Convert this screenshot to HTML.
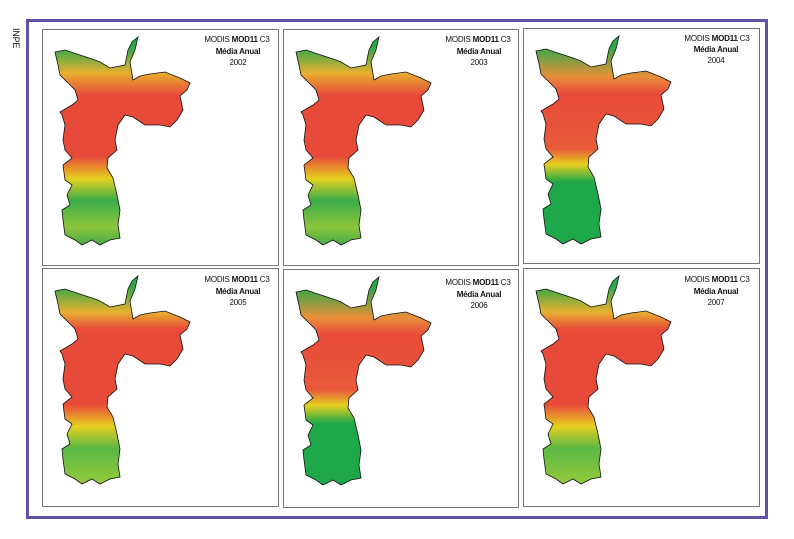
<!DOCTYPE html>
<html><head><meta charset="utf-8"><style>
body{margin:0;background:#fff;width:794px;height:539px;overflow:hidden}
svg{display:block}
text{font-family:"Liberation Sans",sans-serif;font-size:8px;letter-spacing:-0.2px;fill:#111}
</style></head><body>
<svg width="794" height="539" viewBox="0 0 794 539">
<defs>
<path id="m" d="M13,23 L23,21 L38,26 L53,31 L58,33 L68,39 L83,36 L86,21 L90,13 L96,8 L93,21 L88,33 L91,51 L98,47 L108,45 L123,43 L138,49 L148,54 L145,61 L138,67 L141,81 L135,91 L128,98 L118,96 L103,96 L91,88 L83,86 L76,96 L73,111 L75,121 L66,129 L65,139 L71,149 L75,166 L78,181 L76,196 L78,209 L68,211 L58,216 L50,211 L40,216 L33,211 L23,206 L21,191 L20,181 L28,176 L25,166 L30,156 L23,151 L21,136 L30,129 L23,121 L21,111 L23,96 L20,86 L18,83 L30,76 L36,71 L33,61 L28,56 L18,46 L16,36 Z"/>
<linearGradient id="g1" x1="0" y1="0" x2="0" y2="220" gradientUnits="userSpaceOnUse">
<stop offset="0.08" stop-color="#2aa84a"/><stop offset="0.2" stop-color="#e8b030"/><stop offset="0.3" stop-color="#e84a3a"/><stop offset="0.58" stop-color="#e84a3a"/><stop offset="0.68" stop-color="#e6d020"/><stop offset="0.78" stop-color="#3aad48"/><stop offset="0.9" stop-color="#8cc43c"/><stop offset="1" stop-color="#3aa848"/></linearGradient>
<linearGradient id="g2" x1="0" y1="0" x2="0" y2="220" gradientUnits="userSpaceOnUse">
<stop offset="0.08" stop-color="#2aa84a"/><stop offset="0.22" stop-color="#e8903a"/><stop offset="0.3" stop-color="#e84a3a"/><stop offset="0.55" stop-color="#e85a3a"/><stop offset="0.62" stop-color="#e6d020"/><stop offset="0.7" stop-color="#1fa84a"/><stop offset="1" stop-color="#1fa84a"/></linearGradient>
<linearGradient id="g3" x1="0" y1="0" x2="0" y2="220" gradientUnits="userSpaceOnUse">
<stop offset="0.08" stop-color="#2aa84a"/><stop offset="0.2" stop-color="#e8b030"/><stop offset="0.28" stop-color="#e84a3a"/><stop offset="0.62" stop-color="#e84a3a"/><stop offset="0.72" stop-color="#e6d020"/><stop offset="0.82" stop-color="#5ab844"/><stop offset="1" stop-color="#9ccc3c"/></linearGradient>
</defs>
<text x="0" y="0" transform="translate(13,28) rotate(90)" style="font-size:9px">INPE</text>
<rect x="27.5" y="20.5" width="739" height="497" fill="none" stroke="#5b53a8" stroke-width="3"/>
<g stroke="#777" stroke-width="1" fill="#fff">
<rect x="42.5" y="29.5" width="236" height="236"/>
<rect x="283.5" y="29.5" width="235" height="236"/>
<rect x="523.5" y="28.5" width="236" height="235"/>
<rect x="42.5" y="268.5" width="236" height="238"/>
<rect x="283.5" y="269.5" width="235" height="238"/>
<rect x="523.5" y="268.5" width="236" height="238"/>
</g>
<g stroke="#111" stroke-width="0.8">
<use href="#m" transform="translate(42,29)" fill="url(#g1)"/>
<use href="#m" transform="translate(283,29)" fill="url(#g1)"/>
<use href="#m" transform="translate(523,28)" fill="url(#g2)"/>
<use href="#m" transform="translate(42,268)" fill="url(#g3)"/>
<use href="#m" transform="translate(283,269)" fill="url(#g2)"/>
<use href="#m" transform="translate(523,268)" fill="url(#g3)"/>
</g>
<g text-anchor="middle">
<text x="237" y="42"><tspan>MODIS </tspan><tspan font-weight="bold">MOD11</tspan> C3</text><text x="238" y="54" font-weight="bold">Média Anual</text><text x="238" y="65">2002</text>
<text x="478" y="42"><tspan>MODIS </tspan><tspan font-weight="bold">MOD11</tspan> C3</text><text x="479" y="54" font-weight="bold">Média Anual</text><text x="479" y="65">2003</text>
<text x="717" y="41"><tspan>MODIS </tspan><tspan font-weight="bold">MOD11</tspan> C3</text><text x="716" y="52" font-weight="bold">Média Anual</text><text x="716" y="63">2004</text>
<text x="237" y="282"><tspan>MODIS </tspan><tspan font-weight="bold">MOD11</tspan> C3</text><text x="238" y="294" font-weight="bold">Média Anual</text><text x="238" y="305">2005</text>
<text x="478" y="285"><tspan>MODIS </tspan><tspan font-weight="bold">MOD11</tspan> C3</text><text x="479" y="297" font-weight="bold">Média Anual</text><text x="479" y="308">2006</text>
<text x="717" y="282"><tspan>MODIS </tspan><tspan font-weight="bold">MOD11</tspan> C3</text><text x="716" y="294" font-weight="bold">Média Anual</text><text x="716" y="305">2007</text>
</g>
</svg>
</body></html>
